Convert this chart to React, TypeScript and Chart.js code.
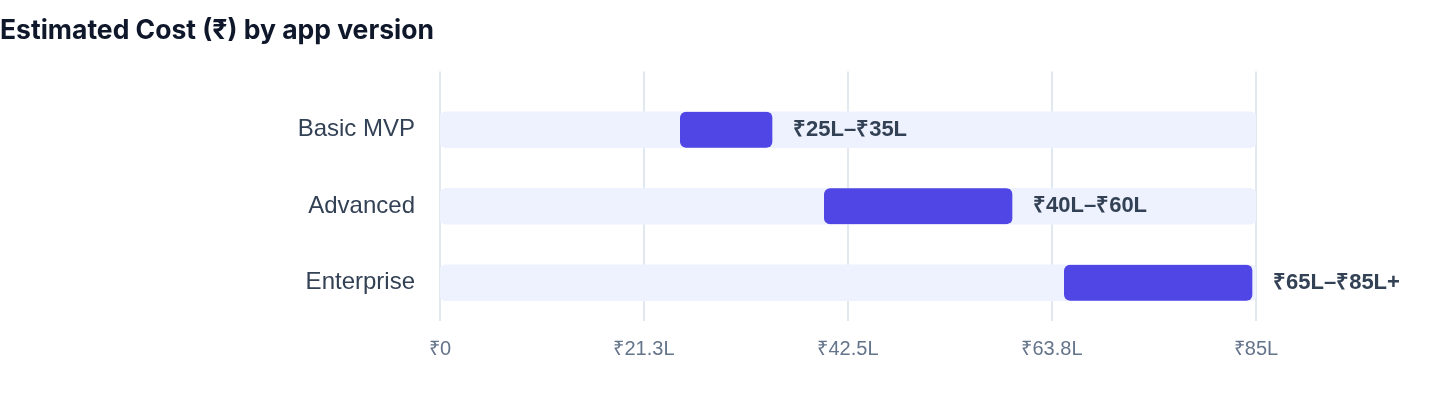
import React, { useEffect, useRef } from "react";
import { Chart, registerables } from "chart.js";

Chart.register(...registerables);

const TITLE = "Estimated Cost (₹) by app version";
const categories = ["Basic MVP", "Advanced", "Enterprise"];
const rangeStart = [25, 40, 65];
const rangeEnd = [35, 60, 85];
const rangeLabels = ["₹25L–₹35L", "₹40L–₹60L", "₹65L–₹85L+"];
const axisMax = 85;
const tickValues = [0, 21.25, 42.5, 63.75, 85];
const tickLabels = ["₹0", "₹21.3L", "₹42.5L", "₹63.8L", "₹85L"];

const SANS = "'Liberation Sans', Arial, Helvetica, sans-serif";

const gridPlugin = {
  id: "extendedGrid",
  beforeDatasetsDraw(chart: any) {
    const { ctx, chartArea } = chart;
    const xs = chart.scales.x;
    ctx.save();
    ctx.strokeStyle = "#E2E8F0";
    ctx.lineWidth = 2;
    tickValues.forEach((v) => {
      const px = Math.round(xs.getPixelForValue(v));
      ctx.beginPath();
      ctx.moveTo(px, chartArea.top - 20);
      ctx.lineTo(px, chartArea.bottom);
      ctx.stroke();
    });
    ctx.restore();
  },
};

const labelPlugin = {
  id: "rangeLabels",
  afterDatasetsDraw(chart: any) {
    const { ctx } = chart;
    const xs = chart.scales.x;
    const meta = chart.getDatasetMeta(0);
    ctx.save();
    ctx.font = `bold 22px ${SANS}`;
    ctx.fillStyle = "#334155";
    ctx.textAlign = "left";
    ctx.textBaseline = "middle";
    meta.data.forEach((el: any, i: number) => {
      const x = xs.getPixelForValue(rangeEnd[i]) + 17;
      ctx.fillText(rangeLabels[i], x, el.y);
    });
    ctx.restore();
  },
};

export default function App() {
  const ref = useRef<HTMLCanvasElement | null>(null);

  useEffect(() => {
    if (!ref.current) return;
    const chart = new Chart(ref.current, {
      type: "bar",
      data: {
        labels: categories,
        datasets: [
          {
            label: "Range",
            data: categories.map((_, i) => [rangeStart[i], rangeEnd[i]]) as any,
            backgroundColor: "#4F46E5",
            borderColor: "rgba(0,0,0,0)",
            borderWidth: { top: 0, right: 4, bottom: 0, left: 0 } as any,
            borderRadius: { topLeft: 6, bottomLeft: 6, topRight: 10, bottomRight: 10 } as any,
            borderSkipped: false,
            barThickness: 36,
            grouped: false,
            order: 0,
          },
          {
            label: "Track",
            data: categories.map(() => [0, axisMax]) as any,
            backgroundColor: "#EEF2FF",
            borderRadius: 6,
            borderSkipped: false,
            barThickness: 36,
            grouped: false,
            order: 1,
          },
        ],
      },
      options: {
        indexAxis: "y",
        animation: false,
        responsive: false,
        maintainAspectRatio: false,
        layout: { padding: { left: 0, right: 184, top: 0, bottom: 30 } },
        plugins: {
          legend: { display: false },
          tooltip: { enabled: false },
          title: {
            display: true,
            text: TITLE,
            align: "start",
            color: "#0F172A",
            font: { family: "Inter, 'Liberation Sans', Arial, sans-serif", size: 26.5, weight: "bold" },
            padding: { top: 15.5, bottom: 44.2 },
          },
        },
        scales: {
          x: {
            type: "linear",
            min: 0,
            max: axisMax,
            grid: { display: false, drawTicks: false },
            border: { display: false },
            afterBuildTicks: (scale: any) => {
              scale.ticks = tickValues.map((v) => ({ value: v }));
            },
            ticks: {
              autoSkip: false,
              maxRotation: 0,
              padding: 16.5,
              color: "#64748B",
              font: { family: SANS, size: 20 },
              callback: (_v: any, i: number) => tickLabels[i],
            },
          },
          y: {
            type: "category",
            grid: { display: false, drawTicks: false },
            border: { display: false },
            afterFit: (scale: any) => {
              scale.width = 440;
            },
            ticks: {
              padding: 25,
              color: "#334155",
              font: { family: SANS, size: 24 },
            },
          },
        },
      },
      plugins: [gridPlugin, labelPlugin],
    });
    return () => chart.destroy();
  }, []);

  return (
    <div style={{ position: "absolute", left: 0, top: 0, width: 1440, height: 408, background: "#fff" }}>
      <canvas ref={ref} width={1440} height={408} />
    </div>
  );
}
